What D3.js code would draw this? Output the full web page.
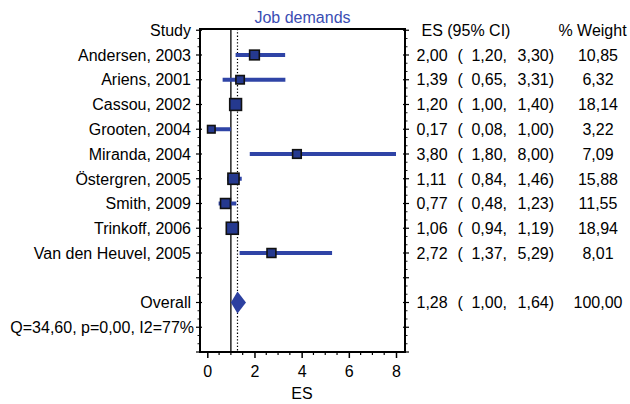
<!DOCTYPE html>
<html>
<head>
<meta charset="utf-8">
<script src="https://cdn.jsdelivr.net/npm/d3@7"></script>
<style>
  html, body { margin: 0; padding: 0; background: #fff; }
  svg text { font-family: "Liberation Sans", Arial, Helvetica, sans-serif; }
</style>
</head>
<body>
<svg id="chart" width="630" height="404"></svg>
<script>
const studies = ["Andersen, 2003", "Ariens, 2001", "Cassou, 2002", "Grooten, 2004", "Miranda, 2004",
                 "Östergren, 2005", "Smith, 2009", "Trinkoff, 2006", "Van den Heuvel, 2005"];
const es     = [2.00, 1.39, 1.20, 0.17, 3.80, 1.11, 0.77, 1.06, 2.72];
const ciLow  = [1.20, 0.65, 1.00, 0.08, 1.80, 0.84, 0.48, 0.94, 1.37];
const ciHigh = [3.30, 3.31, 1.40, 1.00, 8.00, 1.46, 1.23, 1.19, 5.29];
const weights = [10.85, 6.32, 18.14, 3.22, 7.09, 15.88, 11.55, 18.94, 8.01];
const overallLabel = "Overall";
const overall = [1.28, 1.00, 1.64, 100.00];  // es, low, high, weight
const heterogeneity = "Q=34,60, p=0,00, I2=77%";
const title = "Job demands";
const xTicks = [0, 2, 4, 6, 8];
const xLabel = "ES";
const headers = ["Study", "ES (95% CI)", "% Weight"];

const svg = d3.select("#chart");
const FS = 16;
const blue = "#2f44a6";
const boxFill = "#25398f";

const x = d3.scaleLinear().domain([0, 8]).range([207.3, 396]);
const y = d3.scaleLinear().domain([-1.05, 12]).range([29, 352]);
const frameL = 200, frameR = 405, frameT = y(-1.05), frameB = y(12);

const fmt = v => d3.format(".2f")(v).replace(".", ",");
const boxSize = d3.scaleLinear().domain([d3.min(weights), d3.max(weights)]).range([7.5, 12]);

// Frame ticks on left / right borders
const g = svg.append("g");
const majorRows = d3.range(-1, 13);
const minorRows = d3.range(-1, 12, 1 / 3).filter(v => Math.abs(v - Math.round(v)) > 0.01);
[[frameL, -1], [frameR, 1]].forEach(([bx, dir]) => {
  g.selectAll(null).data(majorRows).join("line")
    .attr("x1", bx - 2 * dir).attr("x2", bx + 4 * dir)
    .attr("y1", d => y(d)).attr("y2", d => y(d))
    .attr("stroke", "#000").attr("stroke-width", 1.2);
  g.selectAll(null).data(minorRows).join("line")
    .attr("x1", bx).attr("x2", bx + 2.5 * dir)
    .attr("y1", d => y(d)).attr("y2", d => y(d))
    .attr("stroke", "#000").attr("stroke-width", 0.9);
});

// Bottom axis ticks
const minorX = d3.range(0, 8.01, 0.5).filter(v => v % 2 !== 0);
g.selectAll(null).data(minorX).join("line")
  .attr("x1", d => x(d)).attr("x2", d => x(d))
  .attr("y1", frameB).attr("y2", frameB + 3)
  .attr("stroke", "#000").attr("stroke-width", 1.2);
const xAxis = d3.axisBottom(x).tickValues(xTicks).tickSize(6).tickPadding(8);
const ax = svg.append("g").attr("transform", `translate(0,${frameB})`).call(xAxis);
ax.select(".domain").remove();
ax.selectAll(".tick line").attr("stroke", "#000").attr("stroke-width", 1.5);
ax.selectAll(".tick text").attr("font-size", FS).attr("fill", "#000")
  .attr("font-family", "Liberation Sans, Arial, sans-serif");

// Frame
svg.append("rect").attr("x", frameL).attr("y", frameT)
  .attr("width", frameR - frameL).attr("height", frameB - frameT)
  .attr("fill", "none").attr("stroke", "#000").attr("stroke-width", 2);

// Null line and overall dotted line
svg.append("line").attr("x1", x(1)).attr("x2", x(1)).attr("y1", frameT).attr("y2", frameB)
  .attr("stroke", "#000").attr("stroke-width", 1.3);
svg.append("line").attr("x1", x(overall[0])).attr("x2", x(overall[0])).attr("y1", frameT).attr("y2", frameB)
  .attr("stroke", "#000").attr("stroke-width", 1.2).attr("stroke-dasharray", "1.3,2");

// CI lines
const idx = d3.range(studies.length);
svg.selectAll(".ci").data(idx).join("line")
  .attr("x1", i => x(ciLow[i])).attr("x2", i => x(ciHigh[i]))
  .attr("y1", i => y(i)).attr("y2", i => y(i))
  .attr("stroke", blue).attr("stroke-width", 4);

// Boxes
svg.selectAll(".box").data(idx).join("rect")
  .attr("x", i => x(es[i]) - boxSize(weights[i]) / 2)
  .attr("y", i => y(i) - boxSize(weights[i]) / 2)
  .attr("width", i => boxSize(weights[i]))
  .attr("height", i => boxSize(weights[i]))
  .attr("fill", boxFill).attr("stroke", "#111").attr("stroke-width", 1.6);

// Overall diamond
const oy = y(10);
svg.append("path")
  .attr("d", `M${x(overall[1])},${oy} L${x(overall[0])},${oy - 11} L${x(overall[2])},${oy} L${x(overall[0])},${oy + 11} Z`)
  .attr("fill", "#2c40a0");

// Texts
const txt = (xx, yy, s, anchor, extra) => {
  const t = svg.append("text").attr("x", xx).attr("y", yy).attr("dy", "0.36em")
    .attr("font-size", FS).attr("text-anchor", anchor).attr("fill", "#000").text(s);
  if (extra) extra(t);
  return t;
};

txt((frameL + frameR) / 2, 17, title, "middle", t => t.attr("fill", "#3a4db3"));
txt(191, y(-1), headers[0], "end");
txt(421.5, y(-1), headers[1], "start");
txt(592.5, y(-1), headers[2], "middle");

const rowText = (r, label, e, lo, hi, w) => {
  txt(191, y(r), label, "end");
  txt(416.5, y(r), fmt(e), "start");
  txt(457.5, y(r), "(", "start");
  txt(507, y(r), fmt(lo) + ",", "end");
  txt(554, y(r), fmt(hi) + ")", "end");
  txt(598, y(r), fmt(w), "middle");
};
idx.forEach(i => rowText(i, studies[i], es[i], ciLow[i], ciHigh[i], weights[i]));
rowText(10, overallLabel, overall[0], overall[1], overall[2], overall[3]);
txt(194, y(11), heterogeneity, "end");

txt(302, 393, xLabel, "middle");
</script>
</body>
</html>
